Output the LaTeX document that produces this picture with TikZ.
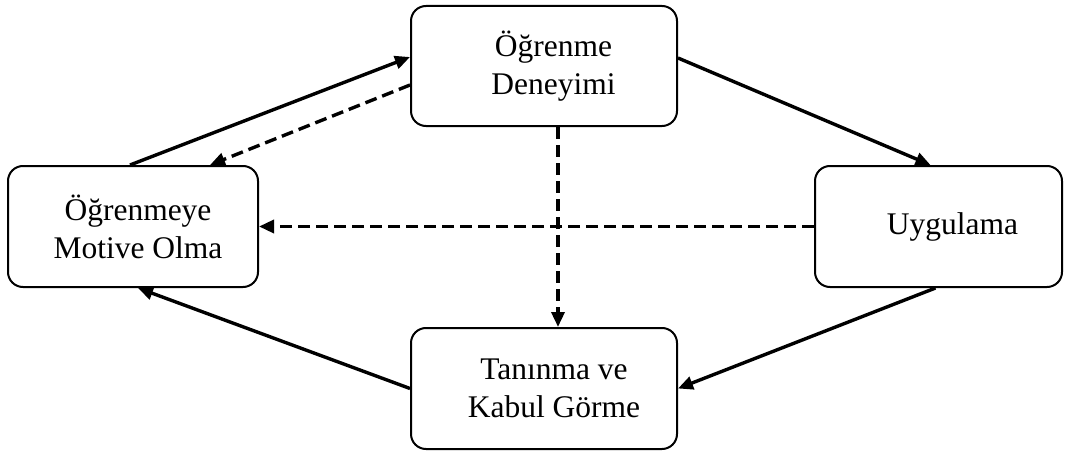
\documentclass[tikz,border=0pt]{standalone}
\usepackage{fontspec}
\setmainfont{Liberation Serif}
\usetikzlibrary{arrows.meta,calc}
\newcommand{\shiftline}[2]{\hspace*{#1}#2}
\tikzset{
  box/.style={draw=black, line width=2pt, rounded corners=15pt, align=center,
    inner sep=0pt, font=\fontsize{31.5}{38}\selectfont, text=black},
  solidarrow/.style={line width=3.4pt, -{Triangle[length=15pt,width=13pt]}},
  dasharrow/.style={line width=3.4pt, dash pattern=on 12pt off 6pt, -{Triangle[length=15pt,width=13pt]}}
}
\begin{document}
\begin{tikzpicture}[x=1pt,y=-1pt]
\useasboundingbox (0,0) rectangle (1080,452);
\node[box, minimum width=266pt, minimum height=120pt] (T) at (544,66)
  {\shiftline{19pt}{Öğrenme}\\\shiftline{19pt}{Deneyimi}};
\node[box, minimum width=250pt, minimum height=121pt] (L) at (133,226.5)
  {\shiftline{10pt}{Öğrenmeye}\\\shiftline{10pt}{Motive Olma}};
\node[box, minimum width=247pt, minimum height=121pt] (R) at (938.5,226.5)
  {\shiftline{28pt}{Uygulama}};
\node[box, minimum width=266pt, minimum height=121pt] (B) at (544,388.5)
  {\shiftline{20pt}{Tanınma ve}\\\shiftline{20pt}{Kabul Görme}};
\draw[solidarrow] ($(L.north)+(-3,0)$) -- ($(T.west)+(0,-9)$);
\draw[dasharrow] ($(T.west)+(0,19)$) -- ($(L.north)+(77,0)$);
\draw[solidarrow] ($(T.east)+(0,-8)$) -- ($(R.north)+(-8,0)$);
\draw[dasharrow] ($(T.south)+(14,0)$) -- ($(B.north)+(14,0)$);
\draw[dasharrow] (R.west) -- (L.east);
\draw[solidarrow] ($(R.south)+(-3,0)$) -- (B.east);
\draw[solidarrow] (B.west) -- ($(L.south)+(5,0)$);
\end{tikzpicture}
\end{document}
